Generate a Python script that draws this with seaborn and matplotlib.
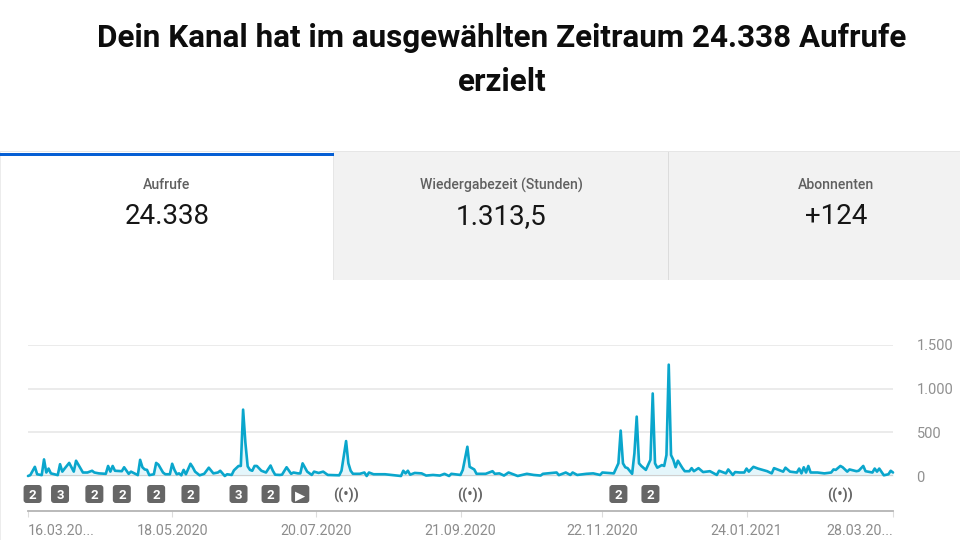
import matplotlib
matplotlib.use("Agg")
import matplotlib.pyplot as plt
import pandas as pd
import seaborn as sns
from matplotlib.patches import FancyBboxPatch, Rectangle
from matplotlib.transforms import IdentityTransform

# (Tage seit 16.03.2020, Aufrufe)
frueh = [(0, 0), (1, 10), (3, 105), (4, 20), (6, 10), (7, 190), (8, 40), (9, 85), (10, 30), (13, 10), (14, 135),
         (15, 50), (16, 85), (18, 150), (19, 100), (20, 50), (21, 175), (23, 85), (24, 40), (26, 40), (28, 60),
         (29, 40), (31, 30), (34, 25), (35, 115), (36, 50), (37, 115), (38, 60), (41, 55), (42, 100), (44, 25),
         (45, 50), (48, 10), (49, 185), (50, 100), (51, 75), (52, 70), (53, 10), (55, 20), (56, 150), (57, 130),
         (59, 40), (60, 20), (62, 20), (63, 140), (64, 70), (65, 20), (66, 30), (67, 8), (68, 70), (69, 20),
         (71, 140), (72, 100), (73, 50), (75, 8), (77, 25), (79, 95), (81, 30), (83, 40), (84, 60), (86, 0),
         (87, 20), (89, 12), (90, 65), (92, 115), (93, 115), (94, 760), (95, 380), (96, 110), (97, 70), (98, 60),
         (99, 115), (100, 115), (102, 60), (104, 40), (106, 120), (107, 60), (108, 15), (110, 12), (111, 15),
         (113, 100), (115, 25), (116, 40), (118, 30), (119, 30), (120, 145), (122, 50), (124, 12), (125, 50)]
mitte = [(127, 35), (129, 50), (131, 12), (136, 8), (137, 60), (139, 400), (140, 145), (141, 60), (142, 25), (145, 25),
         (147, 40), (148, 0), (149, 40), (151, 20), (156, 20), (163, 0), (164, 60), (165, 30), (166, 60), (167, 15),
         (169, 35), (172, 30), (174, 5), (177, 12), (180, 5), (182, 25), (184, 0), (185, 25), (189, 12), (190, 70),
         (192, 335), (193, 105), (195, 75), (196, 25), (200, 25), (203, 55), (204, 25), (206, 30), (208, 5), (210, 40),
         (212, 20), (214, 0), (218, 25), (221, 12), (224, 5), (225, 25), (231, 40), (232, 10), (235, 40), (237, 12),
         (238, 40), (240, 12), (244, 25), (247, 30), (250, 12), (251, 40), (256, 30)]
spaet = [(258, 145), (259, 520), (260, 145), (261, 100), (262, 90), (264, 25), (265, 260), (266, 680), (267, 145),
         (268, 115), (270, 70), (272, 185), (273, 945), (274, 145), (275, 95), (277, 125), (278, 115), (279, 240),
         (280, 1275), (281, 240), (282, 185), (283, 100), (284, 175), (286, 90), (287, 55), (289, 55), (290, 90),
         (291, 55), (293, 90), (295, 45), (298, 55), (301, 12), (302, 60), (305, 30), (306, 75), (308, 12), (309, 45),
         (311, 40), (313, 40), (314, 85), (315, 50), (317, 105), (319, 85), (323, 55), (325, 30), (326, 90), (328, 70),
         (330, 50), (331, 95), (333, 50), (336, 40), (337, 85), (338, 30), (339, 100), (340, 40), (341, 115), (342, 40),
         (345, 40), (348, 30), (351, 40), (352, 75), (353, 70), (355, 115), (356, 100), (358, 50), (359, 75), (362, 55),
         (363, 60), (365, 115), (366, 55), (369, 40), (370, 85), (371, 50), (372, 85), (374, 8), (376, 20), (377, 60),
         (378, 40)]

tick_tage = [0, 63, 126, 189, 251, 314, 378]
tick_labels = ["16.03.20...", "18.05.2020", "20.07.2020", "21.09.2020", "22.11.2020", "24.01.2021", "28.03.20..."]
y_ticks = [0, 500, 1000, 1500]
y_labels = ["0", "500", "1.000", "1.500"]

# Ereignisse unter der Kurve
box_tage = [2, 14, 29, 41, 56, 71, 92, 106, 119, 258, 272]
box_text = ["2", "3", "2", "2", "2", "2", "3", "2", "\u25b6", "2", "2"]
live_tage = [139, 193, 355]

tab_titel = ["Aufrufe", "Wiedergabezeit (Stunden)", "Abonnenten"]
tab_werte = ["24.338", "1.313,5", "+124"]
titel = "Dein Kanal hat im ausgewählten Zeitraum 24.338 Aufrufe\nerzielt"

sns.set_theme(style="white")
plt.rcParams["font.family"] = ["Roboto", "DejaVu Sans"]

W, H = 960, 540
fig = plt.figure(figsize=(9.6, 5.4), dpi=100)
ax = fig.add_axes([28 / W, 1 - 476 / H, 865 / W, 131 / H])

df = pd.DataFrame(frueh + mitte + spaet, columns=["tag", "aufrufe"])
ax.fill_between(df["tag"], df["aufrufe"], color="#e4f6fb", lw=0)
sns.lineplot(data=df, x="tag", y="aufrufe", color="#0aa6cc", linewidth=1.9, ax=ax, clip_on=False, zorder=5)

ax.set_xlim(0, 378)
ax.set_ylim(0, 1500)
ax.set_xlabel("")
ax.set_ylabel("")
ax.set_facecolor("none")
sns.despine(ax=ax, left=True, right=True, top=True, bottom=False)

ax.yaxis.tick_right()
ax.set_yticks(y_ticks)
ax.set_yticklabels(y_labels, fontsize=10.5, color="#909090")
ax.tick_params(axis="y", length=0, pad=17)
ax.grid(axis="y", color="#e6e6e6", lw=1.1)
ax.axhline(0, color="#d0d0d0", lw=1.5, zorder=2)

ax.spines["bottom"].set_position(("outward", 25.2))
ax.spines["bottom"].set_color("#b4b4b4")
ax.spines["bottom"].set_linewidth(1.3)
ax.set_xticks(tick_tage)
ax.set_xticklabels(tick_labels, fontsize=10.3, color="#8c8c8c")
ax.tick_params(axis="x", length=4, width=0.8, color="#dcdcdc", pad=5.5, bottom=True)
ax.get_xticklabels()[0].set_ha("left")
ax.get_xticklabels()[-1].set_ha("right")

# Ereignis-Kästchen, 18 px gross, in Pixeln an die x-Achse gehängt
box_y = H - 494
for t, s in zip(box_tage, box_text):
    px = ax.transData.transform((t, 0))[0]
    fig.add_artist(FancyBboxPatch((px - 7, box_y - 7), 14, 14, boxstyle="round,pad=2,rounding_size=3",
                                  transform=IdentityTransform(), fc="#666666", ec="none"))
    fig.text(px / W, box_y / H, s, ha="center", va="center_baseline", color="white", fontsize=9.5, fontweight="bold")
for t in live_tage:
    px = ax.transData.transform((t, 0))[0]
    fig.text(px / W, (box_y - 1) / H, "((•))", ha="center", va="center", color="#666666", fontsize=10.5,
             fontweight="bold")


# Registerkarten oben
def box(x0, y0, x1, y1, farbe):
    fig.add_artist(Rectangle((x0 / W, 1 - y1 / H), (x1 - x0) / W, (y1 - y0) / H, transform=fig.transFigure,
                             fc=farbe, ec="none", zorder=-5))


box(334, 152, 960, 280, "#f2f2f2")
box(0, 151, 960, 152, "#e6e6e6")
box(668, 152, 669, 280, "#dcdcdc")
box(333, 152, 334, 280, "#e6e6e6")
box(0, 152, 1, 540, "#ececec")
box(0, 153, 334, 156, "#065fd4")

for m, kopf, wert in zip([167, 501, 836], tab_titel, tab_werte):
    fig.text(m / W, 1 - 185 / H, kopf, ha="center", va="center", fontsize=10.1, color="#606060", fontweight="medium")
    fig.text(m / W, 1 - 217 / H, wert, ha="center", va="center", fontsize=20, color="#161616")

fig.text(502 / W, 1 - 60 / H, titel, ha="center", va="center", fontsize=22.6, fontweight="bold", color="#0d0d0d",
         linespacing=1.55)

fig.savefig("out.png", dpi=100)
